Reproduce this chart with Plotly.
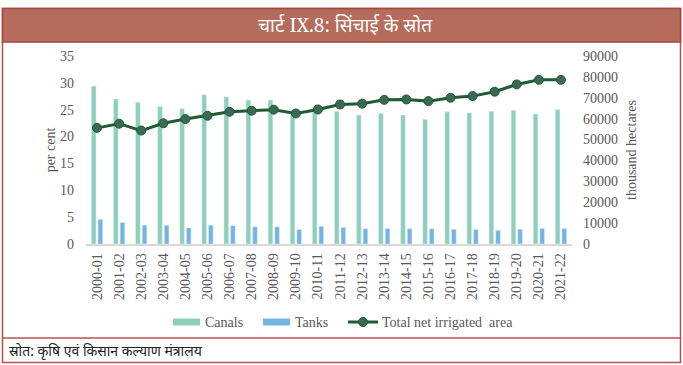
import plotly.graph_objects as go

years = ["2000-01", "2001-02", "2002-03", "2003-04", "2004-05", "2005-06", "2006-07",
         "2007-08", "2008-09", "2009-10", "2010-11", "2011-12", "2012-13", "2013-14",
         "2014-15", "2015-16", "2016-17", "2017-18", "2018-19", "2019-20", "2020-21", "2021-22"]
canals = [29.4, 27.0, 26.4, 25.6, 25.2, 27.8, 27.4, 26.8, 26.8, 24.5, 24.8, 24.7, 24.0, 24.3,
          24.0, 23.2, 24.6, 24.4, 24.7, 24.9, 24.2, 25.0]
tanks = [4.6, 4.0, 3.5, 3.5, 3.0, 3.5, 3.4, 3.2, 3.2, 2.7, 3.3, 3.1, 2.85, 2.9,
         2.85, 2.85, 2.75, 2.7, 2.55, 2.75, 2.9, 2.9]
total_area = [55600, 57600, 54300, 57800, 59800, 61400, 63300, 63800, 64300, 62500, 64400,
              66800, 67200, 69000, 69200, 68400, 70000, 70800, 72900, 76400, 78600, 78600]

title_text = "चार्ट IX.8: सिंचाई के स्रोत"
source_text = "स्रोत: कृषि एवं किसान कल्याण मंत्रालय"

W, H = 683, 365
L, R, T, B = 86, 572, 56, 244


def px(x):
    return (x - L) / (R - L)


def py(y):
    return (B - y) / (B - T)


CANAL_C = "#8DCFBA"
TANK_C = "#74B4E3"
LINE_C = "#1F5C33"
MARK_C = "#3B6957"
GRAY = "#595959"
FRAME = "#B5524B"
BANNER = "#B66C5D"

fig = go.Figure()
fig.add_trace(go.Bar(x=years, y=canals, name="Canals", marker_color=CANAL_C))
fig.add_trace(go.Bar(x=years, y=tanks, name="Tanks", marker_color=TANK_C))
fig.add_trace(go.Scatter(x=years, y=total_area, name="Total net irrigated  area", yaxis="y2",
                         mode="lines+markers", line=dict(color=LINE_C, width=3),
                         marker=dict(color=MARK_C, size=9, line=dict(color=LINE_C, width=1))))

font_serif = "Liberation Serif, DejaVu Serif, serif"

shapes = [
    dict(type="rect", xref="paper", yref="paper", x0=px(2.5), x1=px(680.5), y0=py(362.5), y1=py(8.5),
         line=dict(color=FRAME, width=1.5), fillcolor="rgba(0,0,0,0)", layer="below"),
    dict(type="rect", xref="paper", yref="paper", x0=px(2.5), x1=px(680.5), y0=py(42), y1=py(8.5),
         line=dict(color="#A4463D", width=1.5), fillcolor=BANNER, layer="below"),
    dict(type="line", xref="paper", yref="paper", x0=px(2.5), x1=px(680.5), y0=py(338), y1=py(338),
         line=dict(color=FRAME, width=1.5)),
    dict(type="rect", xref="paper", yref="paper", x0=px(173), x1=px(200), y0=py(325.5), y1=py(318.5),
         line=dict(width=0), fillcolor=CANAL_C),
    dict(type="rect", xref="paper", yref="paper", x0=px(263), x1=px(290), y0=py(325.5), y1=py(318.5),
         line=dict(width=0), fillcolor=TANK_C),
    dict(type="line", xref="paper", yref="paper", x0=px(348), x1=px(378), y0=py(322), y1=py(322),
         line=dict(color=LINE_C, width=3)),
    dict(type="circle", xref="paper", yref="paper", x0=px(358.5), x1=px(367.5), y0=py(326.5), y1=py(317.5),
         line=dict(color=LINE_C, width=1), fillcolor=MARK_C),
]

annotations = [
    dict(text=title_text, xref="paper", yref="paper", x=px(345), y=py(25), showarrow=False,
         font=dict(color="white", size=19, family="Noto Serif, Noto Sans, serif"), xanchor="center", yanchor="middle"),
    dict(text=source_text, xref="paper", yref="paper", x=px(7), y=py(351), showarrow=False,
         font=dict(color="#222222", size=14, family="Noto Sans, sans-serif"), xanchor="left", yanchor="middle"),
    dict(text="Canals", xref="paper", yref="paper", x=px(203), y=py(322), showarrow=False,
         font=dict(color=GRAY, size=14, family=font_serif), xanchor="left", yanchor="middle"),
    dict(text="Tanks", xref="paper", yref="paper", x=px(293), y=py(322), showarrow=False,
         font=dict(color=GRAY, size=14, family=font_serif), xanchor="left", yanchor="middle"),
    dict(text="Total net irrigated  area", xref="paper", yref="paper", x=px(380), y=py(322), showarrow=False,
         font=dict(color=GRAY, size=14, family=font_serif), xanchor="left", yanchor="middle"),
]

fig.update_layout(
    width=W, height=H,
    margin=dict(l=L, r=W - R, t=T, b=H - B, pad=0),
    paper_bgcolor="white", plot_bgcolor="white",
    barmode="group", bargap=0.4, bargroupgap=0.3,
    showlegend=False,
    font=dict(family=font_serif, color=GRAY, size=12),
    xaxis=dict(type="category", range=[-0.5, 21.5], tickangle=-90, showgrid=False,
               showline=True, linecolor="#D9D9D9", linewidth=1.5, ticks="",
               tickfont=dict(size=14, color=GRAY), ticklabelstandoff=2),
    yaxis=dict(range=[0, 35], dtick=5, showgrid=False, zeroline=False, showline=False,
               tickfont=dict(size=14, color=GRAY), ticklabelstandoff=11,
               title=dict(text="per cent", font=dict(size=14, color=GRAY), standoff=1)),
    yaxis2=dict(range=[0, 90000], dtick=10000, tickformat="d", overlaying="y", side="right",
                showgrid=False, zeroline=False, showline=False, tickfont=dict(size=14, color=GRAY),
                ticklabelstandoff=10,
                title=dict(text="thousand hectares", font=dict(size=14, color=GRAY), standoff=9)),
    shapes=shapes,
    annotations=annotations,
)

fig.write_html("out.html", config={"displayModeBar": False},
               post_script="document.body.style.margin='0';document.body.style.padding='0';")
